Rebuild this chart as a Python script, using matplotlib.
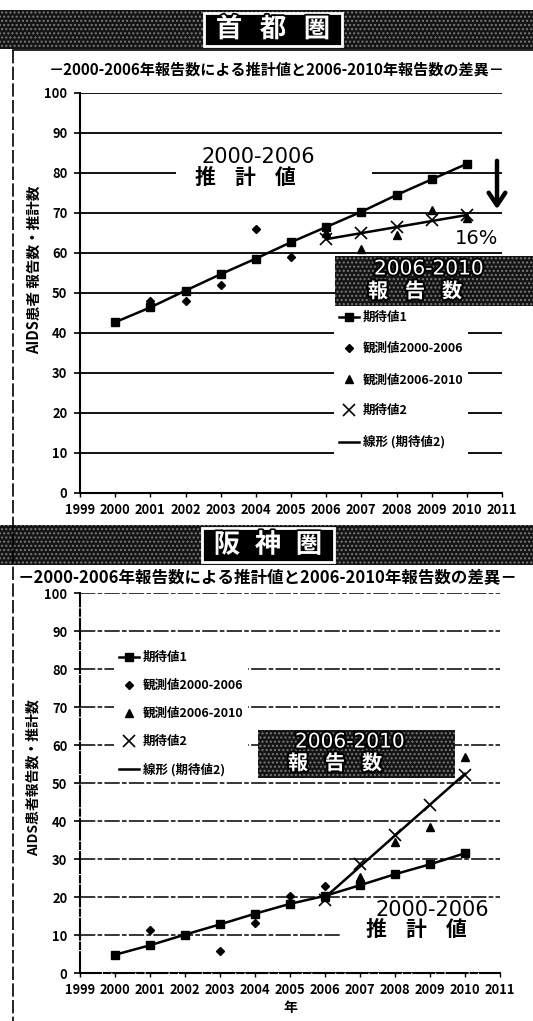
import numpy as np
import matplotlib
matplotlib.use("Agg")
import matplotlib.pyplot as plt
from matplotlib.patches import Rectangle
from matplotlib.lines import Line2D
import matplotlib.patheffects as pe

plt.rcParams['font.family'] = ['Noto Sans CJK JP', 'DejaVu Sans']

# ---------------- data ----------------
years = [2000, 2001, 2002, 2003, 2004, 2005, 2006, 2007, 2008, 2009, 2010]
years_obs1 = [2000, 2001, 2002, 2003, 2004, 2005, 2006]
years_obs2 = [2006, 2007, 2008, 2009, 2010]

# 首都圏
top_exp1 = [42.7, 46.4, 50.6, 54.7, 58.6, 62.7, 66.5, 70.3, 74.5, 78.4, 82.3]
top_obs1 = [42.8, 48.0, 48.0, 52.0, 66.0, 59.0, 64.5]
top_obs2 = [65.0, 61.0, 64.5, 70.8, 68.8]
top_exp2 = [63.5, 64.9, 66.4, 68.2, 69.4]

# 阪神圏
bot_exp1 = [4.8, 7.3, 10.1, 12.8, 15.6, 18.2, 20.3, 23.1, 26.0, 28.6, 31.5]
bot_obs1 = [4.8, 11.2, 10.1, 5.9, 13.2, 20.3, 23.0]
bot_obs2 = [20.0, 25.3, 34.5, 38.5, 56.8]
bot_exp2 = [19.3, 28.7, 36.3, 44.3, 52.2]

x_ticks = list(range(1999, 2012))
y_ticks = list(range(0, 101, 10))

labels = ['期待値1', '観測値2000-2006', '観測値2006-2010', '期待値2', '線形 (期待値2)']
subtitle = '－2000-2006年報告数による推計値と2006-2010年報告数の差異－'
ylabel_top = 'AIDS患者 報告数・推計数'
ylabel_bot = 'AIDS患者報告数・推計数'

# ---------------- layout helpers ----------------
W, H = 533, 1021
fig = plt.figure(figsize=(W / 100, H / 100), dpi=100)
fig.patch.set_facecolor('white')


def fx(px):
    return px / W


def fy(py):
    return 1 - py / H


def axes_px(x0, y_top, x1, y_bot):
    return fig.add_axes([fx(x0), fy(y_bot), (x1 - x0) / W, (y_bot - y_top) / H])


def spaced(x0, x1, y, s, **kw):
    n = len(s)
    xs = np.linspace(x0, x1, n)
    for ch, xx in zip(s, xs):
        fig.text(fx(xx), fy(y), ch, ha='center', va='center', **kw)


outline = [pe.withStroke(linewidth=3, foreground='black')]


def banner(y0, y1, title, tx0, tx1):
    r = Rectangle((0, fy(y1)), 1, (y1 - y0) / H, transform=fig.transFigure,
                  facecolor='#141414', edgecolor='#7a7a7a', hatch='....', lw=0, zorder=0)
    fig.patches.append(r)
    b = Rectangle((fx(tx0), fy(y1 - 3)), (tx1 - tx0) / W, (y1 - y0 - 6) / H,
                  transform=fig.transFigure, facecolor='black', edgecolor='white',
                  lw=2, zorder=1)
    fig.patches.append(b)
    spaced(tx0 + 25, tx1 - 25, (y0 + y1) / 2, title, fontsize=19, fontweight='bold',
           color='white', path_effects=[pe.withStroke(linewidth=2.5, foreground='black')], zorder=2)


def dark_box(x0, y0, x1, y1):
    r = Rectangle((fx(x0), fy(y1)), (x1 - x0) / W, (y1 - y0) / H, transform=fig.transFigure,
                  facecolor='#141414', edgecolor='#7a7a7a', hatch='....', lw=0, zorder=10)
    fig.patches.append(r)


def style_axes(ax, dashed=False):
    ax.set_xlim(1999, 2011)
    ax.set_ylim(0, 100)
    ax.set_xticks(x_ticks)
    ax.set_yticks(y_ticks)
    ax.set_xticklabels([str(v) for v in x_ticks], fontsize=9.3, fontweight='bold')
    ax.set_yticklabels([str(v) for v in y_ticks], fontsize=9.3, fontweight='bold')
    for s in ['top', 'right']:
        ax.spines[s].set_visible(False)
    ax.spines['left'].set_linewidth(1.5)
    ax.spines['bottom'].set_linewidth(1.5)
    ls = (0, (10, 1.5, 3, 1.5)) if dashed else '-'
    if dashed:
        ax.spines['bottom'].set_linestyle(ls)
        ax.spines['left'].set_linestyle(ls)
    ax.tick_params(axis='y', length=4, width=1.2, pad=5)
    ax.tick_params(axis='x', length=3, width=1.0, pad=4)
    ax.set_axisbelow(True)
    ax.yaxis.grid(True, color='black', linewidth=1.3 if not dashed else 1.1, linestyle=ls)
    ax.patch.set_alpha(0)


def plot_series(ax, exp1, obs1, obs2, exp2):
    h1, = ax.plot(years, exp1, color='black', lw=1.8, marker='s', ms=6, zorder=4)
    h2, = ax.plot(years_obs1, obs1, ls='none', color='black', marker='D', ms=4.5, zorder=4)
    h3, = ax.plot(years_obs2, obs2, ls='none', color='black', marker='^', ms=6, zorder=4)
    h4, = ax.plot(years_obs2, exp2, ls='none', color='black', marker='x', ms=8, mew=1.2, zorder=4)
    coef = np.polyfit(years_obs2, exp2, 1)
    xs = np.array([years_obs2[0], years_obs2[-1]])
    h5, = ax.plot(xs, np.polyval(coef, xs), color='black', lw=1.8, zorder=3)
    return [h1, h2, h3, h4, h5]


# ---------------- top panel: 首都圏 ----------------
banner(10, 49, '首都圏', 204, 342)
fig.text(fx(277), fy(70), subtitle, ha='center', va='center', fontsize=10.9, fontweight='bold')

ax1 = axes_px(80, 93, 502, 493)
style_axes(ax1)
hs = plot_series(ax1, top_exp1, top_obs1, top_obs2, top_exp2)

fig.text(fx(34), fy(270), ylabel_top, rotation=90, ha='center', va='center',
         fontsize=10.5, fontweight='bold')

# white box behind "2000-2006 推計値"
fig.patches.append(Rectangle((fx(176), fy(196)), (372 - 176) / W, (196 - 142) / H,
                             transform=fig.transFigure, facecolor='white', edgecolor='none', zorder=1))
fig.text(fx(258), fy(157), '2000-2006', ha='center', va='center', fontsize=15,
         family='DejaVu Sans', zorder=2)
spaced(205, 285, 177, '推計値', fontsize=15, fontweight='bold', zorder=2)

# arrow and 16%
ax1.annotate('', xy=(fx(497), fy(212)), xycoords='figure fraction',
             xytext=(fx(497), fy(158)), textcoords='figure fraction',
             arrowprops=dict(arrowstyle='->,head_length=0.9,head_width=0.6', lw=3.2, color='black'))
fig.text(fx(477), fy(238), '16%', ha='center', va='center', fontsize=14, family='DejaVu Sans')

# dark box "2006-2010 報告数"
dark_box(335, 256, 533, 306)
fig.text(fx(429), fy(269), '2006-2010', ha='center', va='center', fontsize=14.5, color='white',
         family='DejaVu Sans', path_effects=outline, zorder=11)
spaced(378, 452, 291, '報告数', fontsize=14.5, fontweight='bold', color='white',
       path_effects=outline, zorder=11)

leg1 = fig.legend(hs, labels, loc='upper left', bbox_to_anchor=(fx(334), fy(306)),
                  frameon=True, fancybox=False, framealpha=1, edgecolor='none', facecolor='white',
                  prop={'weight': 'bold', 'size': 9}, handlelength=1.6,
                  handletextpad=0.3, labelspacing=1.45, borderpad=0.4, borderaxespad=0)
leg1.set_zorder(5)

# ---------------- bottom panel: 阪神圏 ----------------
banner(525, 565, '阪神圏', 202, 334)
fig.text(fx(268), fy(578), subtitle, ha='center', va='center', fontsize=11.9, fontweight='bold')

ax2 = axes_px(80, 593, 500, 973)
style_axes(ax2, dashed=True)
hs2 = plot_series(ax2, bot_exp1, bot_obs1, bot_obs2, bot_exp2)
ax2.set_xlabel('年', fontsize=10, fontweight='bold', labelpad=3)

fig.text(fx(34), fy(778), ylabel_bot, rotation=90, ha='center', va='center',
         fontsize=10, fontweight='bold')

fig.patches.append(Rectangle((fx(340), fy(947)), (502 - 340) / W, (947 - 900) / H,
                             transform=fig.transFigure, facecolor='white', edgecolor='none', zorder=1))
fig.text(fx(432), fy(910), '2000-2006', ha='center', va='center', fontsize=15,
         family='DejaVu Sans', zorder=2)
spaced(376, 456, 929, '推計値', fontsize=15, fontweight='bold', zorder=2)

dark_box(258, 730, 455, 778)
fig.text(fx(350), fy(742), '2006-2010', ha='center', va='center', fontsize=14.5, color='white',
         family='DejaVu Sans', path_effects=outline, zorder=11)
spaced(298, 372, 763, '報告数', fontsize=14.5, fontweight='bold', color='white',
       path_effects=outline, zorder=11)

leg2 = fig.legend(hs2, labels, loc='upper left', bbox_to_anchor=(fx(114), fy(646)),
                  frameon=True, fancybox=False, framealpha=1, edgecolor='none', facecolor='white',
                  prop={'weight': 'bold', 'size': 9}, handlelength=1.6,
                  handletextpad=0.3, labelspacing=1.2, borderpad=0.4, borderaxespad=0)
leg2.set_zorder(5)

# frame line at left
fig.add_artist(Line2D([fx(13), fx(13)], [fy(50), fy(1021)], transform=fig.transFigure,
                      color='black', lw=1.2, ls=(0, (8, 2))))
fig.add_artist(Line2D([fx(13), 1], [fy(50), fy(50)], transform=fig.transFigure,
                      color='black', lw=1.2))

fig.savefig('out.png', dpi=100, facecolor='white')
